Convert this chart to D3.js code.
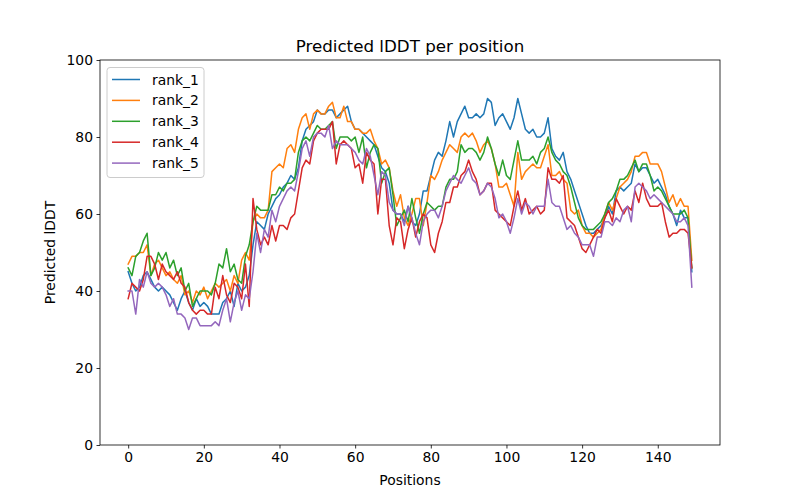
<!DOCTYPE html>
<html>
<head>
<meta charset="utf-8">
<script src="https://cdn.jsdelivr.net/npm/d3@7"></script>
<style>
  body { margin: 0; background: #fff; }
  text { font-family: "DejaVu Sans", sans-serif; }
</style>
</head>
<body>
<div id="chart"></div>
<script>
const seriesNames = ["rank_1", "rank_2", "rank_3", "rank_4", "rank_5"];
const colors = ["#1f77b4", "#ff7f0e", "#2ca02c", "#d62728", "#9467bd"];
const xTicks = [0, 20, 40, 60, 80, 100, 120, 140];
const yTicks = [0, 20, 40, 60, 80, 100];

const rank1 = [
  45, 42, 40, 41, 44, 45, 43, 41, 40, 41,
  40, 39, 37, 35, 38, 40, 37, 35, 38, 36,
  37, 36, 34, 34, 34, 37, 38, 40, 36, 42,
  40, 41, 44, 52, 58, 57, 56, 60, 62, 64,
  65, 67, 68, 70, 69, 72, 79, 82, 83, 84,
  87, 86, 86, 87, 87, 85, 86, 87, 88, 84,
  82, 82, 81, 80, 79, 78, 75, 72, 71, 68,
  61, 60, 60, 58, 62, 58, 57, 60, 66, 66,
  70, 74, 76, 75, 79, 84, 80, 84, 86, 88,
  85, 85, 86, 85, 86, 90, 89, 83, 85, 86,
  84, 82, 85, 90, 86, 82, 81, 82, 80, 80,
  81, 85, 77, 75, 74, 76, 71, 69, 66, 63,
  60, 57, 55, 55, 56, 57, 59, 62, 60, 66,
  67, 66, 67, 68, 73, 71, 72, 72, 70, 68,
  69, 67, 65, 62, 60, 57, 61, 59, 59, 45
];
const rank2 = [
  47, 49, 49, 50, 50, 52, 44, 47, 48, 46,
  44, 45, 43, 42, 44, 39, 40, 37, 40, 39,
  41, 38, 40, 42, 41, 42, 43, 40, 44, 42,
  48, 50, 48, 58, 60, 59, 59, 61, 71, 72,
  73, 72, 77, 78, 76, 82, 85, 86, 82, 86,
  87, 86, 86, 88, 89, 85, 85, 88, 84, 84,
  82, 82, 81, 81, 82, 79, 77, 73, 74, 72,
  66, 62, 65, 59, 57, 60, 64, 64, 57, 63,
  70, 69, 71, 74, 76, 78, 77, 76, 80, 81,
  80, 81, 79, 76, 78, 79, 77, 73, 67, 67,
  68, 65, 62, 76, 69, 71, 72, 73, 72, 72,
  75, 78, 70, 70, 71, 69, 68, 61, 60, 61,
  57, 55, 55, 54, 55, 56, 60, 63, 61, 64,
  67, 68, 69, 71, 75, 75, 76, 76, 73, 73,
  73, 71, 67, 63, 65, 62, 64, 62, 62, 48
];
const rank3 = [
  46, 44, 49, 50, 53, 55, 44, 46, 50, 48,
  50, 46, 48, 44, 46, 40, 42, 36, 38, 40,
  40, 40, 39, 42, 47, 46, 51, 45, 47, 43,
  42, 49, 52, 58, 62, 61, 61, 61, 65, 65,
  67, 66, 68, 68, 69, 76, 79, 80, 79, 81,
  83, 82, 82, 83, 84, 77, 80, 80, 80, 79,
  80, 76, 80, 72, 76, 78, 77, 68, 71, 72,
  65, 57, 59, 61, 58, 64, 59, 55, 60, 63,
  62, 61, 62, 62, 67, 69, 69, 71, 78, 76,
  77, 77, 76, 74, 76, 80, 77, 73, 70, 74,
  70, 69, 74, 79, 74, 74, 74, 75, 73, 76,
  77, 80, 76, 74, 73, 71, 70, 67, 63, 59,
  57, 56, 56, 56, 57, 58, 60, 63, 64, 66,
  69, 69, 70, 72, 74, 71, 73, 73, 70, 66,
  67, 66, 64, 62, 60, 60, 60, 61, 59, 46
];
const rank4 = [
  38, 42, 41, 40, 43, 49, 49, 47, 43, 47,
  45, 44, 43, 45, 42, 41, 37, 35, 34, 35,
  35, 34, 34, 41, 38, 44, 39, 37, 42, 41,
  38, 47, 36, 64, 56, 52, 54, 52, 57, 53,
  57, 57, 56, 59, 60, 66, 72, 74, 73, 79,
  81, 82, 82, 82, 84, 73, 78, 79, 78, 77,
  72, 73, 68, 76, 74, 73, 60, 69, 69, 57,
  52, 59, 58, 51, 56, 59, 54, 58, 60, 59,
  52, 50, 55, 58, 63, 63, 67, 67, 70, 71,
  74, 71, 69, 65, 66, 68, 68, 61, 60, 59,
  58, 57, 62, 66, 61, 64, 60, 61, 62, 60,
  61, 72, 69, 69, 68, 70, 59, 58, 57, 54,
  51, 50, 52, 54, 56, 55, 59, 61, 58, 64,
  62, 60, 62, 61, 66, 63, 68, 64, 62, 62,
  62, 63, 58, 54, 55, 55, 56, 56, 55, 46
];
const rank5 = [
  40, 40, 34, 43, 41, 45, 42, 41, 42, 41,
  39, 36, 38, 34, 34, 33, 30, 33, 33, 31,
  31, 31, 31, 32, 31, 35, 38, 32, 37, 40,
  35, 39, 38, 45, 55, 50, 56, 54, 61, 58,
  62, 64, 66, 67, 66, 71, 77, 79, 75, 80,
  81, 81, 80, 83, 77, 79, 78, 78, 78, 77,
  76, 74, 73, 77, 75, 70, 65, 71, 70, 63,
  61, 60, 60, 57, 62, 59, 55, 52, 58, 60,
  61, 61, 59, 62, 66, 68, 70, 69, 68, 70,
  72, 69, 68, 65, 66, 68, 67, 64, 59, 60,
  58, 55, 59, 64, 60, 63, 62, 60, 62, 62,
  62, 69, 63, 62, 62, 59, 56, 57, 55, 54,
  52, 52, 52, 49, 54, 54, 58, 58, 57, 59,
  58, 61, 62, 58, 67, 68, 67, 66, 64, 65,
  64, 63, 62, 61, 60, 58, 58, 59, 57, 41
];
const allSeries = [rank1, rank2, rank3, rank4, rank5];

const width = 800, height = 500;
const margin = { top: 60, left: 100, bottom: 55, right: 80 };
const iwidth = width - margin.left - margin.right;
const iheight = height - margin.top - margin.bottom;

const svg = d3.select("#chart").append("svg")
  .attr("width", width)
  .attr("height", height);

const g = svg.append("g").attr("transform", `translate(${margin.left},${margin.top})`);

const n = rank1.length;
const pad = (n - 1) * 0.05;
const x = d3.scaleLinear().domain([-pad, n - 1 + pad]).range([0, iwidth]);
const y = d3.scaleLinear().domain([0, 100]).range([iheight, 0]);

// lines
const line = d3.line().x((d, i) => x(i)).y(d => y(d));
allSeries.forEach((s, k) => {
  g.append("path")
    .datum(s)
    .attr("fill", "none")
    .attr("stroke", colors[k])
    .attr("stroke-width", 1.5)
    .attr("stroke-linejoin", "round")
    .attr("stroke-linecap", "square")
    .attr("d", line);
});

// axes
const xAxis = g.append("g")
  .attr("transform", `translate(0,${iheight})`)
  .call(d3.axisBottom(x).tickValues(xTicks).tickSize(3.5).tickPadding(3.5).tickSizeOuter(0));
const yAxis = g.append("g")
  .call(d3.axisLeft(y).tickValues(yTicks).tickSize(3.5).tickPadding(3.5).tickSizeOuter(0));
[xAxis, yAxis].forEach(a => {
  a.select(".domain").remove();
  a.selectAll("line").attr("stroke", "#000").attr("stroke-width", 0.8);
  a.selectAll("text").attr("font-size", "13.9px").attr("fill", "#000")
    .style("font-family", "DejaVu Sans, sans-serif");
});

// frame
g.append("rect")
  .attr("width", iwidth).attr("height", iheight)
  .attr("fill", "none").attr("stroke", "#000").attr("stroke-width", 0.8);

// title and labels
svg.append("text")
  .attr("x", margin.left + iwidth / 2).attr("y", 52)
  .attr("text-anchor", "middle").attr("font-size", "16.7px")
  .text("Predicted lDDT per position");
svg.append("text")
  .attr("x", margin.left + iwidth / 2).attr("y", 485)
  .attr("text-anchor", "middle").attr("font-size", "13.9px")
  .text("Positions");
svg.append("text")
  .attr("transform", `translate(55,${margin.top + iheight / 2}) rotate(-90)`)
  .attr("text-anchor", "middle").attr("font-size", "13.9px")
  .text("Predicted lDDT");

// legend
const legend = g.append("g").attr("transform", "translate(7,7.5)");
legend.append("rect")
  .attr("width", 97).attr("height", 110).attr("rx", 3)
  .attr("fill", "#fff").attr("fill-opacity", 0.8)
  .attr("stroke", "#cccccc").attr("stroke-width", 1);
seriesNames.forEach((name, k) => {
  const yy = 12 + k * 20.9;
  legend.append("line")
    .attr("x1", 5).attr("x2", 33).attr("y1", yy).attr("y2", yy)
    .attr("stroke", colors[k]).attr("stroke-width", 1.5);
  legend.append("text")
    .attr("x", 45).attr("y", yy + 5)
    .attr("font-size", "13.9px")
    .text(name);
});
</script>
</body>
</html>
